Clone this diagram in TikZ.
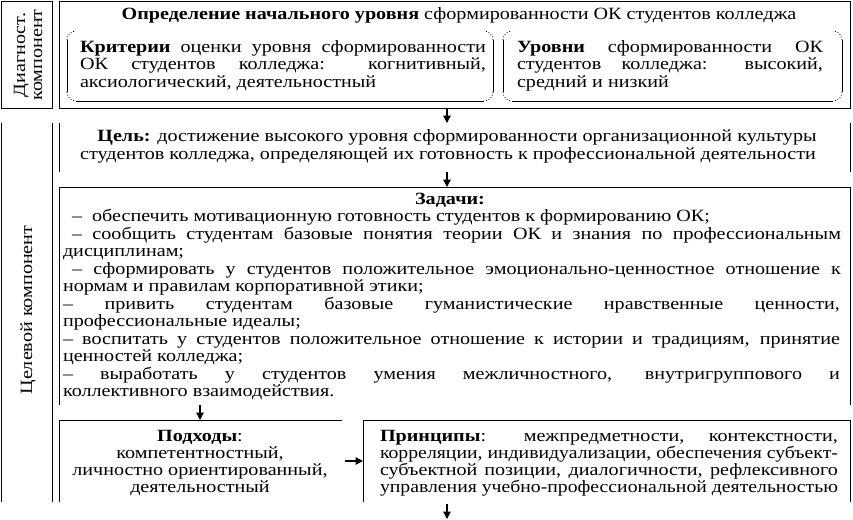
\documentclass[tikz,border=0pt]{standalone}
\usepackage{fontspec}
\usepackage{graphicx}
\setmainfont{Liberation Serif}[FakeStretch=1.17]
\usetikzlibrary{arrows.meta,calc}
\newsavebox\jbox
\newcommand{\jline}[2]{\sbox\jbox{#2}\ifdim\wd\jbox>#1pt\relax\resizebox{#1pt}{\height}{\usebox\jbox}\else\makebox[#1pt][s]{#2}\fi}
\begin{document}
\begin{tikzpicture}[x=1pt,y=1pt,
  every node/.style={inner sep=0pt,outer sep=0pt,font=\fontsize{17.2}{17}\selectfont},
  boxn/.style={draw=none,anchor=north west,minimum width=#1},
  ln/.style={line width=1pt},
  inner/.style={line width=0.8pt},
  tl/.style={anchor=base west},
  tc/.style={anchor=base},
  arr/.style={line width=1.3pt,-{Triangle[width=7.5pt,length=7.5pt]}}]
\useasboundingbox (0,0) rectangle (853,-519);

% frames
\node[boxn=51pt,minimum height=106pt] (diagL) at (1,-2) {};
\node[boxn=791pt,minimum height=106pt] (diagBox) at (59,-2) {};
\node[boxn=426pt,minimum height=70pt] (critBox) at (67,-31) {};
\node[boxn=339pt,minimum height=70pt] (lvlBox) at (503,-31) {};
\node[boxn=51pt,minimum height=379pt] (goalL) at (1,-123) {};
\node[boxn=791pt,minimum height=49pt] (goalBox) at (59,-123) {};
\node[boxn=791pt,minimum height=218pt] (taskBox) at (59,-187) {};
\node[boxn=283pt,minimum height=82pt] (apprBox) at (59,-420) {};
\node[boxn=487pt,minimum height=82pt] (princBox) at (363,-420) {};

\draw[ln] (diagL.north west) rectangle (diagL.south east);
\draw[ln] (diagBox.north west) rectangle (diagBox.south east);
\draw[ln] (goalL.north west) -- (goalL.south west) (goalL.north east) -- (goalL.south east);
\draw[ln] (goalBox.north west) -- (goalBox.south west) (goalBox.north east) -- (goalBox.south east);
\draw[ln] (taskBox.south west) -- (taskBox.north west) -- (taskBox.north east) -- (taskBox.south east);
\draw[ln] (apprBox.south west) -- (apprBox.north west) -- (apprBox.north east);
\draw[ln] (princBox.south west) -- (princBox.north west) -- (princBox.north east) -- (princBox.south east);

\foreach \b in {critBox,lvlBox}{
  \draw[inner] ($(\b.north west)+(0,-9)$) -- ($(\b.south west)+(0,9)$);
  \draw[inner] ($(\b.south west)+(9,0)$) -- ($(\b.south east)+(-9,0)$);
  \draw[inner] ($(\b.north east)+(0,-9)$) -- ($(\b.south east)+(0,9)$);
  \draw[inner,dotted] ($(\b.north west)+(0,-9)$) arc[start angle=180,end angle=90,radius=9];
  \draw[inner,dotted] ($(\b.south west)+(0,9)$) arc[start angle=180,end angle=270,radius=9];
  \draw[inner,dotted] ($(\b.north east)+(0,-9)$) arc[start angle=0,end angle=90,radius=9];
  \draw[inner,dotted] ($(\b.south east)+(0,9)$) arc[start angle=0,end angle=-90,radius=9];
}

% side labels
\node[rotate=90,align=center] (dlab) at (28,-55) {Диагност.\\компонент};
\node[rotate=90] (glab) at (28,-310) {Целевой компонент};

% heading block
\node[tc] (head) at (459,-20) {\textbf{Определение начального уровня} сформированности ОК студентов колледжа};
\node[tl] (c1) at (80,-52.5) {\jline{406}{\textbf{Критерии} оценки уровня сформированности}};
\node[tl] (c2) at (80,-70) {\jline{406}{ОК студентов колледжа: когнитивный,}};
\node[tl] (c3) at (80,-87.5) {аксиологический, деятельностный};
\node[tl] (u1) at (517,-52.5) {\jline{306}{\textbf{Уровни} сформированности ОК}};
\node[tl] (u2) at (517,-70) {\jline{306}{студентов колледжа: высокий,}};
\node[tl] (u3) at (517,-87.5) {средний и низкий};

% goal
\node[tc] (g1) at (457,-141.5) {\textbf{Цель:} достижение высокого уровня сформированности организационной культуры};
\node[tc] (g2) at (448,-159) {студентов колледжа, определяющей их готовность к профессиональной деятельности};

% tasks
\node[tc] (z0) at (450,-204) {\textbf{Задачи:}};
\node[tl] (z1) at (72,-221.5) {–\ \ обеспечить мотивационную готовность студентов к формированию ОК;};
\node[tl] (z2) at (72,-239) {\jline{769}{–\ сообщить студентам базовые понятия теории ОК и знания по профессиональным}};
\node[tl] (z3) at (63,-256.5) {дисциплинам;};
\node[tl] (z4) at (72,-274) {\jline{769}{–\ сформировать у студентов положительное эмоционально-ценностное отношение к}};
\node[tl] (z5) at (63,-291.5) {нормам и правилам корпоративной этики;};
\node[tl] (z6) at (63,-309) {\jline{777}{– привить студентам базовые гуманистические нравственные ценности,}};
\node[tl] (z7) at (63,-326.5) {профессиональные идеалы;};
\node[tl] (z8) at (63,-344) {\jline{777}{– воспитать у студентов положительное отношение к истории и традициям, принятие}};
\node[tl] (z9) at (63,-361.5) {ценностей колледжа;};
\node[tl] (z10) at (63,-379) {\jline{777}{– выработать у студентов умения межличностного, внутригруппового и}};
\node[tl] (z11) at (63,-396.5) {коллективного взаимодействия.};

% approaches
\node[tc] (a1) at (200,-441) {\textbf{Подходы}:};
\node[tc] (a2) at (200,-458) {компетентностный,};
\node[tc] (a3) at (200,-475) {личностно ориентированный,};
\node[tc] (a4) at (200,-492) {деятельностный};

% principles
\node[tl] (p1) at (380,-441) {\jline{458}{\textbf{Принципы}: межпредметности, контекстности,}};
\node[tl] (p2) at (380,-458) {\jline{458}{корреляции, индивидуализации, обеспечения субъект-}};
\node[tl] (p3) at (380,-475) {\jline{458}{субъектной позиции, диалогичности, рефлексивного}};
\node[tl] (p4) at (380,-492) {\jline{458}{управления учебно-профессиональной деятельностью}};

% connectors
\coordinate (ax) at (447,0);
\coordinate (ay) at (200,0);
\coordinate (endp) at (447,-519);
\draw[arr] (diagBox.south -| ax) -- (goalBox.north -| ax);
\draw[arr] (goalBox.south -| ax) -- (taskBox.north -| ax);
\draw[arr] (taskBox.south -| ay) -- (apprBox.north -| ay);
\draw[arr,shorten <=3pt] (apprBox.east) -- (princBox.west);
\draw[arr,shorten <=2pt] (princBox.south -| ax) -- (endp);
\end{tikzpicture}
\end{document}
